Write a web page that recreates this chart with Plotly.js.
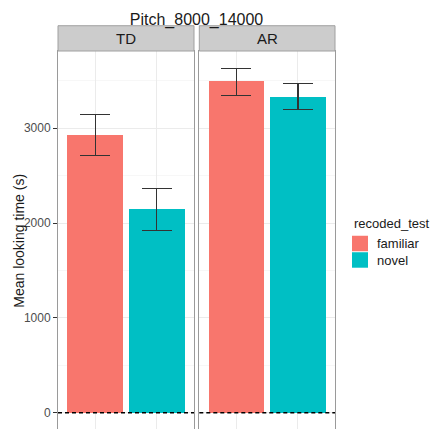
<!DOCTYPE html>
<html>
<head>
<meta charset="utf-8">
<script src="https://cdn.plot.ly/plotly-3.0.1.min.js"></script>
<style>
html,body{margin:0;padding:0;overflow:hidden;background:#fff;width:431px;height:429px;}
#chart{width:431px;height:460px;}
</style>
</head>
<body>
<div id="chart"></div>
<script>
// Data
const chartTitle = "Pitch_8000_14000";
const yTitle = "Mean looking time (s)";
const legendTitle = "recoded_test";
const panels = ["TD", "AR"];
const conditions = ["familiar", "novel"];
const tdMeans = [2926, 2147];
const tdUpper = [3142, 2364];
const tdLower = [2708, 1926];
const arMeans = [3498, 3333];
const arUpper = [3632, 3474];
const arLower = [3347, 3196];
const colors = ["#F8766D", "#00BFC4"];
const yTicks = [0, 1000, 2000, 3000];
const yMinor = [500, 1500, 2500, 3500];

const panelData = [
  {means: tdMeans, upper: tdUpper, lower: tdLower, xa: "x", ya: "y"},
  {means: arMeans, upper: arUpper, lower: arLower, xa: "x2", ya: "y2"}
];

const traces = [];
panelData.forEach((p, pi) => {
  conditions.forEach((c, ci) => {
    traces.push({
      type: "bar",
      x: [c],
      y: [p.means[ci]],
      xaxis: p.xa,
      yaxis: p.ya,
      name: c,
      showlegend: false,
      width: 0.9,
      marker: {color: colors[ci], line: {width: 0}},
      error_y: {
        type: "data",
        symmetric: false,
        array: [p.upper[ci] - p.means[ci]],
        arrayminus: [p.means[ci] - p.lower[ci]],
        width: 15,
        thickness: 1.1,
        color: "#333333"
      },
      hoverinfo: "x+y"
    });
  });
});

const maxVal = Math.max(...tdUpper, ...arUpper);
const pad = maxVal * 0.05;
const yRange = [-pad, maxVal + pad];

const W = 431, H = 460;
const mL = 58, mR = 96, mT = 51, mB = 29.5;
const plotW = W - mL - mR;
const plotH = H - mT - mB;
const px = v => (v - mL) / plotW;
const py = v => 1 - (v - mT) / plotH;
const d1 = [0, px(194)];
const d2 = [px(199.3), 1];
const stripTop = py(25.7);

const borderColor = "#9a9a9a";
const gridColor = "#ebebeb";

function xAxis(domain, anchor) {
  return {
    domain: domain, anchor: anchor, type: "category",
    categoryorder: "array", categoryarray: conditions,
    range: [-0.6, 1.6],
    showgrid: true, gridcolor: gridColor, gridwidth: 1,
    showline: true, mirror: true, linecolor: borderColor, linewidth: 1,
    ticks: "outside", ticklen: 4, tickcolor: "#333333",
    showticklabels: false, zeroline: false, fixedrange: true
  };
}

const layout = {
  width: W, height: H,
  margin: {l: mL, r: mR, t: mT, b: mB, pad: 0, autoexpand: false},
  paper_bgcolor: "#ffffff", plot_bgcolor: "#ffffff",
  font: {family: "Liberation Sans, Arial, sans-serif", color: "#1a1a1a"},
  showlegend: false,
  title: {
    text: chartTitle,
    font: {size: 16, color: "#1a1a1a"},
    x: 0.5, xref: "paper", xanchor: "center",
    y: 1 - 19 / H, yref: "container", yanchor: "middle"
  },
  barmode: "overlay",
  bargap: 0,
  xaxis: xAxis(d1, "y"),
  xaxis2: xAxis(d2, "y2"),
  yaxis: {
    anchor: "x", range: yRange,
    tickmode: "array", tickvals: yTicks,
    ticks: "outside", ticklen: 4, tickcolor: "#333333",
    tickfont: {size: 12, color: "#4d4d4d"},
    showgrid: true, gridcolor: gridColor, gridwidth: 1,
    minor: {tickmode: "array", tickvals: yMinor, showgrid: true, gridcolor: "#f2f2f2", gridwidth: 0.6, ticks: ""},
    showline: true, mirror: true, linecolor: borderColor, linewidth: 1,
    zeroline: false
  },
  yaxis2: {
    anchor: "x2", matches: "y", range: yRange,
    tickmode: "array", tickvals: yTicks,
    showticklabels: false, ticks: "",
    showgrid: true, gridcolor: gridColor, gridwidth: 1,
    minor: {tickmode: "array", tickvals: yMinor, showgrid: true, gridcolor: "#f2f2f2", gridwidth: 0.6, ticks: ""},
    showline: true, mirror: true, linecolor: borderColor, linewidth: 1,
    zeroline: false
  },
  shapes: [],
  annotations: [{
    text: yTitle, textangle: -90, showarrow: false,
    xref: "paper", yref: "paper",
    x: px(19), y: py(241),
    xanchor: "center", yanchor: "middle",
    font: {size: 14, color: "#1a1a1a"}
  }, {
    text: legendTitle, showarrow: false,
    xref: "paper", yref: "paper",
    x: px(352), y: py(224),
    xanchor: "left", yanchor: "middle",
    font: {size: 13, color: "#1a1a1a"}
  }]
};

// legend keys (legend is drawn as a legend panel, not as data marks)
conditions.forEach((c, ci) => {
  const top = 236 + ci * 16.5;
  layout.shapes.push({
    type: "rect", xref: "paper", yref: "paper",
    x0: px(352), x1: px(368), y0: py(top), y1: py(top + 15.5),
    fillcolor: colors[ci], line: {width: 0}
  });
  layout.annotations.push({
    text: c, showarrow: false, xref: "paper", yref: "paper",
    x: px(375), y: py(top + 8),
    xanchor: "left", yanchor: "middle",
    font: {size: 13, color: "#1a1a1a"}
  });
});

// strips
[{dom: d1, label: panels[0]}, {dom: d2, label: panels[1]}].forEach(s => {
  layout.shapes.push({
    type: "rect", xref: "paper", yref: "paper",
    x0: s.dom[0], x1: s.dom[1], y0: 1, y1: stripTop,
    fillcolor: "#cccccc", line: {color: "#a0a0a0", width: 1}, layer: "above"
  });
  layout.annotations.push({
    text: s.label, xref: "paper", yref: "paper",
    x: (s.dom[0] + s.dom[1]) / 2, y: (1 + stripTop) / 2,
    xanchor: "center", yanchor: "middle", showarrow: false,
    font: {size: 15, color: "#1a1a1a"}
  });
});

// dashed zero reference lines
["x", "x2"].forEach((xa, i) => {
  layout.shapes.push({
    type: "line", xref: xa + " domain", yref: i === 0 ? "y" : "y2",
    x0: 0, x1: 1, y0: 0, y1: 0,
    line: {color: "#000000", width: 1.6, dash: "4px,3px"}, layer: "above"
  });
});

Plotly.newPlot("chart", traces, layout, {displayModeBar: false, staticPlot: true});
</script>
</body>
</html>
